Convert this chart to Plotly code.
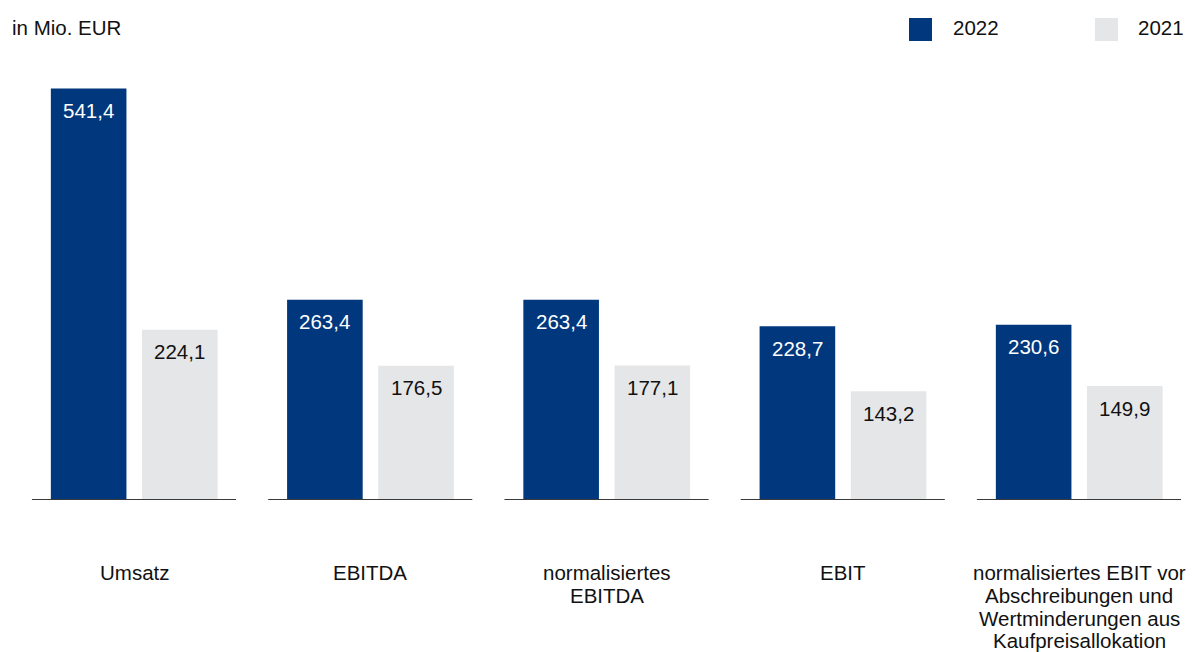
import plotly.graph_objects as go

# ---- data ----
categories = ["Umsatz", "EBITDA", "normalisiertes EBITDA", "EBIT",
              "normalisiertes EBIT vor Abschreibungen und Wertminderungen aus Kaufpreisallokation"]
category_lines = [["Umsatz"], ["EBITDA"], ["normalisiertes", "EBITDA"], ["EBIT"],
                  ["normalisiertes EBIT vor", "Abschreibungen und", "Wertminderungen aus", "Kaufpreisallokation"]]
values_2022 = [541.4, 263.4, 263.4, 228.7, 230.6]
values_2021 = [224.1, 176.5, 177.1, 143.2, 149.9]
series_names = ["2022", "2021"]
unit_label = "in Mio. EUR"

# ---- style ----
W, H = 1192, 652
C_2022 = "#00377d"
C_2021 = "#e5e6e8"
TXT = "#111111"
FONT = "Liberation Sans, Arial, sans-serif"
FS = 20.5
M_T, M_B = 50, 152
PX_PER_UNIT = 0.76
plot_h = H - M_T - M_B
y_max = plot_h / PX_PER_UNIT

px_per_cat = 236.25
x0 = -134 / px_per_cat
x1 = x0 + W / px_per_cat

bar_w = 0.32
off_2022 = -0.352
off_2021 = 0.034

xs = list(range(len(categories)))

def fmt(v):
    return f"{v:.1f}".replace(".", ",")

fig = go.Figure()
fig.add_trace(go.Bar(x=xs, y=values_2022, name=series_names[0], marker_color=C_2022,
                     marker_line_width=0, width=bar_w, offset=off_2022, showlegend=False,
                     hoverinfo="skip"))
fig.add_trace(go.Bar(x=xs, y=values_2021, name=series_names[1], marker_color=C_2021,
                     marker_line_width=0, width=bar_w, offset=off_2021, showlegend=False,
                     hoverinfo="skip"))

annotations = []
shapes = []
for i in xs:
    # value labels
    annotations.append(dict(x=i + off_2022 + bar_w / 2, y=values_2022[i], xref="x", yref="y",
                            text=fmt(values_2022[i]), showarrow=False, yanchor="middle",
                            yshift=-22, font=dict(family=FONT, size=FS, color="white")))
    annotations.append(dict(x=i + off_2021 + bar_w / 2, y=values_2021[i], xref="x", yref="y",
                            text=fmt(values_2021[i]), showarrow=False, yanchor="middle",
                            yshift=-22, font=dict(family=FONT, size=FS, color=TXT)))
    # category labels
    for k, line in enumerate(category_lines[i]):
        annotations.append(dict(x=i, y=0, xref="x", yref="y", text=line, showarrow=False,
                                yanchor="middle", yshift=-(72.5 + 22.8 * k), borderpad=0,
                                font=dict(family=FONT, size=FS, color=TXT)))
    # baseline segment
    shapes.append(dict(type="line", xref="x", yref="y", x0=i - 0.432, x1=i + 0.432, y0=0, y1=0,
                       line=dict(color="#3a3a3a", width=2), layer="above"))

def py(pixel_y):
    return (H - M_B - pixel_y) / plot_h

def px(pixel_x):
    return pixel_x / W

# unit label
annotations.append(dict(x=px(10), y=py(27), xref="paper", yref="paper", text=unit_label,
                        showarrow=False, xanchor="left", yanchor="middle",
                        font=dict(family=FONT, size=FS, color=TXT)))
# legend
for name, col, sx, tx in [(series_names[0], C_2022, 909, 951), (series_names[1], C_2021, 1095, 1136)]:
    shapes.append(dict(type="rect", xref="paper", yref="paper", x0=px(sx), x1=px(sx + 23),
                       y0=py(41), y1=py(18), fillcolor=col, line=dict(width=0)))
    annotations.append(dict(x=px(tx), y=py(27), xref="paper", yref="paper", text=name,
                            showarrow=False, xanchor="left", yanchor="middle",
                            font=dict(family=FONT, size=FS, color=TXT)))

fig.update_layout(
    width=W, height=H,
    margin=dict(l=0, r=0, t=M_T, b=M_B),
    paper_bgcolor="white", plot_bgcolor="white",
    barmode="overlay",
    xaxis=dict(range=[x0, x1], visible=False, fixedrange=True),
    yaxis=dict(range=[0, y_max], visible=False, fixedrange=True),
    annotations=annotations, shapes=shapes,
    font=dict(family=FONT, size=FS, color=TXT),
)

fig.write_html("out.html", config={"displayModeBar": False},
               post_script="document.body.style.margin='0';document.body.style.overflow='hidden';")
